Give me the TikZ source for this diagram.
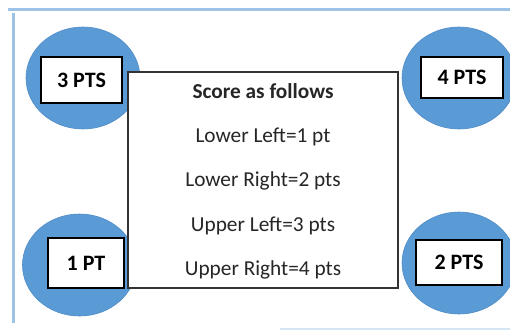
\documentclass[tikz,border=0pt]{standalone}
\usepackage{fontspec}
\setmainfont{Carlito}
\usetikzlibrary{shapes.geometric}
\definecolor{blobblue}{HTML}{5B9BD5}
\definecolor{blobedge}{HTML}{4F8CC6}
\definecolor{frameblue}{HTML}{9DC3E6}
\definecolor{framelight}{HTML}{D5E5F4}
\definecolor{boxline}{HTML}{333333}
\tikzset{
  blob/.style={ellipse, fill=blobblue, draw=blobedge, line width=0.6pt, minimum width=114pt, minimum height=102pt, inner sep=0pt},
  ptsbox/.style={rectangle, draw=black, line width=1.6pt, fill=white, font=\fontsize{22}{25}\selectfont\bfseries, inner sep=0pt, align=center},
  scorebox/.style={rectangle, draw=boxline, line width=1.3pt, fill=white, inner sep=0pt},
  scoretext/.style={font=\fontsize{21.3}{24}\selectfont, text=black!85, inner sep=0pt, anchor=base},
}
\begin{document}
\begin{tikzpicture}[x=1pt,y=-1pt]
\useasboundingbox (0,0) rectangle (510,330);
\clip (0,0) rectangle (510,330);
\fill[white] (0,0) rectangle (510,330);
% frame lines
\draw[frameblue, line width=2.2pt] (8,9.5) -- (510,9.5);
\draw[frameblue, line width=2.4pt] (13.5,13) -- (13.5,323);
\draw[framelight, line width=1.5pt] (280,329) -- (510,329);
% circles
\node[blob] (ulc) at (83,78) {};
\node[blob] (urc) at (459,78) {};
\node[blob] (llc) at (79.5,265) {};
\node[blob] (lrc) at (459,263) {};
% score box
\node[scorebox, minimum width=270pt, minimum height=216pt] (score) at (263,180) {};
\node[scoretext, font=\fontsize{21.3}{24}\selectfont\bfseries] (t0) at (263,98) {Score as follows};
\node[scoretext] (t1) at (263,142) {Lower Left=1 pt};
\node[scoretext] (t2) at (263,186) {Lower Right=2 pts};
\node[scoretext] (t3) at (263,231) {Upper Left=3 pts};
\node[scoretext] (t4) at (263,275) {Upper Right=4 pts};
% points boxes
\node[ptsbox, minimum width=81pt, minimum height=46pt] (p3) at (81.5,80) {3 PTS};
\node[ptsbox, minimum width=82pt, minimum height=41pt] (p4) at (462,77.5) {4 PTS};
\node[ptsbox, minimum width=76pt, minimum height=50pt] (p1) at (86,263) {1 PT};
\node[ptsbox, minimum width=86pt, minimum height=45pt] (p2) at (459,262.5) {2 PTS};
\end{tikzpicture}
\end{document}
